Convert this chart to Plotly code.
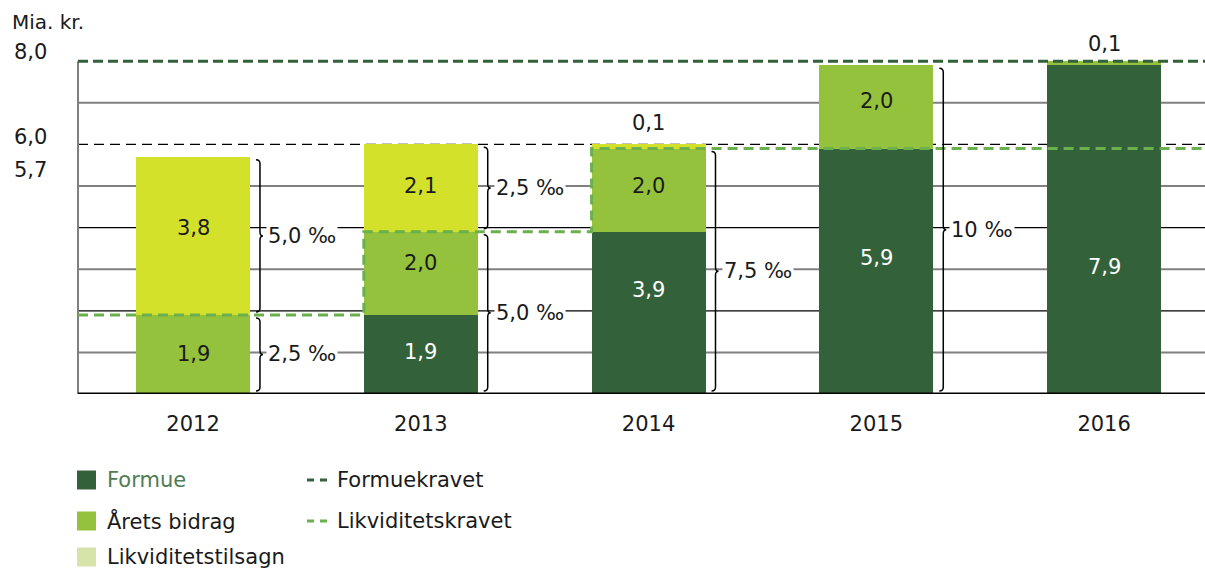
import plotly.graph_objects as go

# ---------------- data ----------------
years = ["2012", "2013", "2014", "2015", "2016"]
formue = [0.0, 1.9, 3.9, 5.9, 7.9]
arets_bidrag = [1.9, 2.0, 2.0, 2.0, 0.1]
likviditetstilsagn = [3.8, 2.1, 0.1, 0.0, 0.0]
formuekravet = 8.0
likviditetskravet = [1.9, 3.9, 5.9, 5.9, 5.9]
gridline_values = [1, 2, 3, 4, 5, 6, 7]
y_tick_values = [8.0, 6.0, 5.7]
y_tick_labels = ["8,0", "6,0", "5,7"]
brace_years = ["2012", "2012", "2013", "2013", "2014", "2015"]
brace_from = [0.0, 1.9, 3.9, 0.0, 0.0, 0.0]
brace_to = [1.9, 5.7, 6.0, 3.9, 5.9, 7.9]
brace_labels = ["2,5 ‰", "5,0 ‰", "2,5 ‰", "5,0 ‰", "7,5 ‰", "10 ‰"]

# ---------------- style ----------------
W, H = 1205, 570
ML, MR, MT, MB = 78, 0, 57, 176
X_RANGE = [-0.505, 4.443]
Y_RANGE = [0, 8.1]
BAR_W = 0.5
PLOT_W = W - ML - MR
PLOT_H = H - MT - MB
PX_X = PLOT_W / (X_RANGE[1] - X_RANGE[0])
PX_Y = PLOT_H / (Y_RANGE[1] - Y_RANGE[0])

C_FORMUE = "#33623a"
C_BIDRAG = "#95c23d"
C_TILSAGN = "#d4e12a"
C_TILSAGN_LEG = "#d6e4aa"
C_LIKV = "#6ab04c"
C_TEXT = "#1a1a1a"
FONT = "DejaVu Sans"
FS = 21

# vertical nudges (px, up positive) for the in-bar labels, per segment
shift_formue = [0, 2, 23, 13, -37]
shift_bidrag = [0, 10, 4, 6, 0]
shift_tilsagn = [8, 2, 0, 0, 0]
shift_top = [0, 0, 7, 0, 3]


def fmt(v):
    return f"{v:.1f}".replace(".", ",")


def px_x(p):  # screenshot pixel -> paper x
    return (p - ML) / PLOT_W


def px_y(p):  # screenshot pixel -> paper y
    return (MT + PLOT_H - p) / PLOT_H


x_idx = list(range(len(years)))
fig = go.Figure()
annotations = []
shapes = []

segments = [
    (formue, C_FORMUE, "white", shift_formue),
    (arets_bidrag, C_BIDRAG, C_TEXT, shift_bidrag),
    (likviditetstilsagn, C_TILSAGN, C_TEXT, shift_tilsagn),
]
base = [0.0] * len(years)
for vals, col, tcol, shifts in segments:
    fig.add_trace(go.Bar(
        x=x_idx, y=vals, width=BAR_W, marker=dict(color=col, line=dict(width=0)),
        hoverinfo="skip", showlegend=False,
    ))
    for i, v in enumerate(vals):
        if v >= 0.5:
            annotations.append(dict(x=i, y=base[i] + v / 2, xref="x", yref="y", text=fmt(v),
                                    showarrow=False, yanchor="middle", yshift=shifts[i],
                                    font=dict(family=FONT, size=FS, color=tcol)))
    base = [b + v for b, v in zip(base, vals)]

# Likviditetskravet step line
sx, sy = [X_RANGE[0]], [likviditetskravet[0]]
for i in range(1, len(years)):
    if likviditetskravet[i] != likviditetskravet[i - 1]:
        sx.append(x_idx[i] - BAR_W / 2)
        sy.append(likviditetskravet[i])
sx.append(X_RANGE[1])
sy.append(likviditetskravet[-1])
fig.add_trace(go.Scatter(x=sx, y=sy, mode="lines", line_shape="hv",
                         line=dict(color=C_LIKV, width=3, dash="10px,6px"),
                         hoverinfo="skip", showlegend=False))
# Formuekravet
fig.add_trace(go.Scatter(x=X_RANGE, y=[formuekravet, formuekravet], mode="lines",
                         line=dict(color=C_FORMUE, width=3, dash="10px,5px"),
                         hoverinfo="skip", showlegend=False))

# gridlines
for g in gridline_values:
    if g % 2 == 1:
        line = dict(color="#808080", width=2)
    elif g == 6:
        line = dict(color="#000000", width=1.3, dash="10px,6px")
    else:
        line = dict(color="#000000", width=1.3)
    shapes.append(dict(type="line", xref="paper", x0=0, x1=1, yref="y", y0=g, y1=g,
                       line=line, layer="below"))
# axis lines
shapes.append(dict(type="line", xref="paper", x0=0, x1=0, yref="y", y0=0, y1=formuekravet,
                   line=dict(color="#808080", width=2), layer="below"))
shapes.append(dict(type="line", xref="paper", x0=0, x1=1, yref="y", y0=0, y1=0,
                   line=dict(color="#000000", width=3), layer="above"))

# small top segment labels
for i in x_idx:
    parts = [formue[i], arets_bidrag[i], likviditetstilsagn[i]]
    total = sum(parts)
    nz = [p for p in parts if p > 0]
    if nz and nz[-1] < 0.5:
        annotations.append(dict(x=i, y=total, xref="x", yref="y", text=fmt(nz[-1]),
                                showarrow=False, yanchor="bottom", yshift=shift_top[i],
                                font=dict(family=FONT, size=FS, color=C_TEXT)))

# braces
dx, dy = 1 / PX_X, 1 / PX_Y
for yr, y0, y1, lab in zip(brace_years, brace_from, brace_to, brace_labels):
    xb = years.index(yr) + BAR_W / 2
    xl, xv, xc = xb + 6 * dx, xb + 10 * dx, xb + 13 * dx
    yt, yb, ym = y1 - 3 * dy, y0 + 3 * dy, (y0 + y1) / 2
    r = 4 * dy
    path = (f"M {xl},{yt} Q {xv},{yt} {xv},{yt - r} L {xv},{ym + r} "
            f"Q {xv},{ym} {xc},{ym} Q {xv},{ym} {xv},{ym - r} "
            f"L {xv},{yb + r} Q {xv},{yb} {xl},{yb}")
    shapes.append(dict(type="path", xref="x", yref="y", path=path,
                       line=dict(color="#000000", width=1.5), layer="above"))
    annotations.append(dict(x=xb + 16 * dx, y=ym, xref="x", yref="y", text=lab,
                            showarrow=False, xanchor="left", yanchor="middle",
                            bgcolor="white", borderpad=1,
                            font=dict(family=FONT, size=FS, color=C_TEXT)))

# y labels
yshifts = [9, 7, -13]
for v, lab, ys in zip(y_tick_values, y_tick_labels, yshifts):
    annotations.append(dict(x=px_x(12), y=v, xref="paper", yref="y", text=lab,
                            showarrow=False, xanchor="left", yanchor="middle", yshift=ys,
                            font=dict(family=FONT, size=FS, color=C_TEXT)))
annotations.append(dict(x=px_x(10), y=px_y(22), xref="paper", yref="paper", text="Mia. kr.",
                        showarrow=False, xanchor="left", yanchor="middle",
                        font=dict(family=FONT, size=FS - 1, color=C_TEXT)))

# legend (custom)
leg_rows = [480, 521, 557]
box_items = [("Formue", C_FORMUE, "#4e7d54"), ("Årets bidrag", C_BIDRAG, C_TEXT),
             ("Likviditetstilsagn", C_TILSAGN_LEG, C_TEXT)]
for (lab, col, tcol), yc in zip(box_items, leg_rows):
    shapes.append(dict(type="rect", xref="paper", yref="paper",
                       x0=px_x(77), x1=px_x(96), y0=px_y(yc - 9.5), y1=px_y(yc + 9.5),
                       fillcolor=col, line=dict(width=0)))
    annotations.append(dict(x=px_x(105), y=px_y(yc), xref="paper", yref="paper", text=lab,
                            showarrow=False, xanchor="left", yanchor="middle",
                            font=dict(family=FONT, size=FS, color=tcol)))
line_items = [("Formuekravet", C_FORMUE), ("Likviditetskravet", C_LIKV)]
for (lab, col), yc in zip(line_items, leg_rows):
    shapes.append(dict(type="line", xref="paper", yref="paper",
                       x0=px_x(307), x1=px_x(328), y0=px_y(yc), y1=px_y(yc),
                       line=dict(color=col, width=3, dash="7px,6px")))
    annotations.append(dict(x=px_x(335), y=px_y(yc), xref="paper", yref="paper", text=lab,
                            showarrow=False, xanchor="left", yanchor="middle",
                            font=dict(family=FONT, size=FS, color=C_TEXT)))

fig.update_layout(
    width=W, height=H, autosize=False,
    margin=dict(l=ML, r=MR, t=MT, b=MB, pad=0),
    paper_bgcolor="white", plot_bgcolor="white",
    barmode="stack", bargap=0, hovermode=False,
    font=dict(family=FONT, size=FS, color=C_TEXT),
    xaxis=dict(range=X_RANGE, tickmode="array", tickvals=x_idx, ticktext=years,
               showgrid=False, zeroline=False, showline=False, ticks="",
               ticklabelstandoff=15, tickfont=dict(family=FONT, size=FS, color=C_TEXT)),
    yaxis=dict(range=Y_RANGE, showgrid=False, zeroline=False, showline=False,
               showticklabels=False, ticks=""),
    shapes=shapes, annotations=annotations,
)
fig.write_html(
    "out.html",
    config={"displayModeBar": False},
    post_script="document.body.style.margin='0';document.body.style.overflow='hidden';",
)
